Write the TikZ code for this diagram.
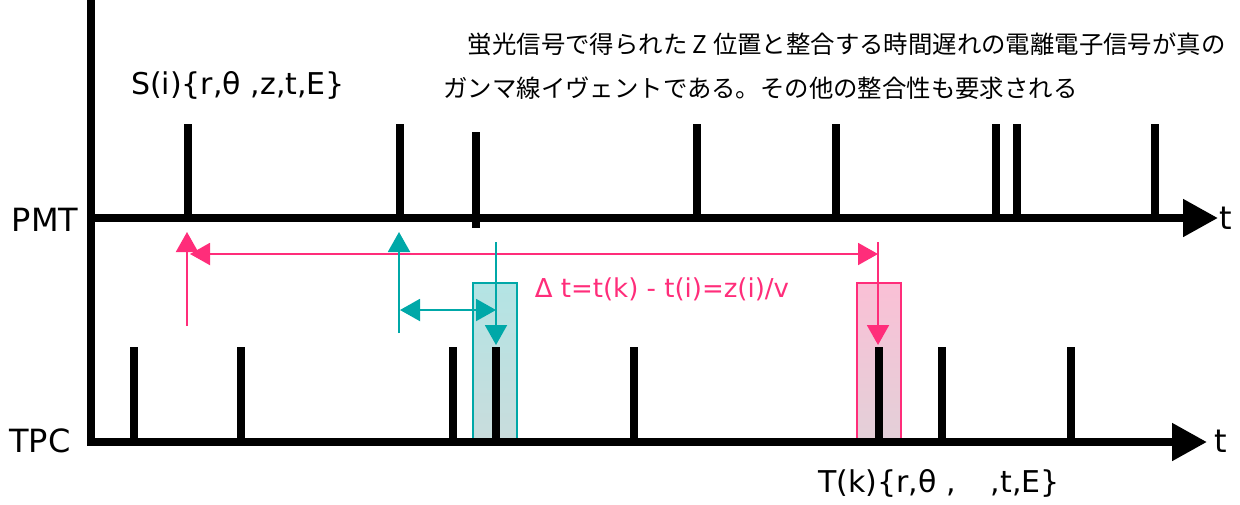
\documentclass[tikz,border=0pt]{standalone}
\usepackage{fontspec}
\setmainfont{DejaVu Sans}
\newfontfamily\jpfont{Noto Sans CJK JP}
\usetikzlibrary{arrows.meta}
\definecolor{pinkc}{HTML}{FF2D7A}
\definecolor{tealc}{HTML}{00A8A8}
\definecolor{tealtop}{HTML}{B3E4E4}
\definecolor{tealbot}{HTML}{C9DCDC}
\definecolor{pinktop}{HTML}{FAC0D6}
\definecolor{pinkbot}{HTML}{E3D0D8}
\begin{document}
\begin{tikzpicture}[x=0.5pt,y=-0.5pt,
  axisline/.style={line width=4pt,-{Triangle[length=17.5pt,width=18pt]}},
  spike/.style={line width=4pt},
  pinkarrow/.style={pinkc,line width=1pt,-{Triangle[length=10pt,width=11pt]}},
  tealarrow/.style={tealc,line width=1pt,-{Triangle[length=10pt,width=11pt]}},
  axlabel/.style={font=\fontsize{16}{19}\selectfont,inner sep=0pt},
  sig/.style={font=\fontsize{15}{18}\selectfont,inner sep=0pt},
  dsig/.style={font=\fontsize{13}{16}\selectfont,inner sep=0pt},
  jp/.style={font=\jpfont\fontsize{12.2}{15}\selectfont,inner sep=0pt,anchor=west}
]
\useasboundingbox (0,0) rectangle (1240,504);

% highlight boxes
\draw[tealc,line width=1pt,top color=tealtop,bottom color=tealbot] (473,283) rectangle (517,442);
\draw[pinkc,line width=1pt,top color=pinktop,bottom color=pinkbot] (857,283) rectangle (901,442);

% axes
\coordinate (vtop) at (91,0);
\coordinate (vbot) at (91,446);
\draw[line width=4pt] (vtop) -- (vbot);
\coordinate (pmt0) at (87,218);
\coordinate (pmt1) at (1218,218);
\coordinate (tpc0) at (87,442);
\coordinate (tpc1) at (1207,442);
\draw[axisline] (pmt0) -- (pmt1);
\draw[axisline] (tpc0) -- (tpc1);

% PMT spikes
\foreach \x in {188,400,697,836,996,1017,1155}
  \draw[spike] (\x,124) -- (\x,218);
\draw[spike] (476,132) -- (476,228);

% TPC spikes
\foreach \x in {134,241,453,496,634,879,942,1071}
  \draw[spike] (\x,347) -- (\x,442);

% labels
\node[axlabel] (pmtlab) at (45,220) {PMT};
\node[axlabel] (tpclab) at (40,441) {TPC};
\node[axlabel,anchor=west] (t1) at (1219,218) {t};
\node[axlabel,anchor=west] (t2) at (1214,441) {t};
\node[sig] (slab) at (238,85) {S(i)\{r,θ ,z,t,E\}};
\node[sig] (tlab) at (939,483) {T(k)\{r,θ ,\hphantom{z}\ \ ,t,E\}};
\node[dsig,text=pinkc] (dlab) at (662,289) {Δ t=t(k) - t(i)=z(i)/v};

\node[jp] (jp1) at (443,44) {　蛍光信号で得られた Z 位置と整合する時間遅れの電離電子信号が真の};
\node[jp] (jp2) at (443,88) {ガンマ線イヴェントである。その他の整合性も要求される};

% pink arrows
\coordinate (pa0) at (187,326);
\coordinate (pa1) at (187,232);
\draw[pinkarrow] (pa0) -- (pa1);
\coordinate (ph0) at (190,254);
\coordinate (ph1) at (878,254);
\draw[pinkc,line width=1pt,{Triangle[length=10pt,width=11pt]}-{Triangle[length=10pt,width=11pt]}] (ph0) -- (ph1);
\coordinate (pd0) at (878,242);
\coordinate (pd1) at (878,345);
\draw[pinkarrow] (pd0) -- (pd1);

% teal arrows
\coordinate (ta0) at (399,333);
\coordinate (ta1) at (399,232);
\draw[tealarrow] (ta0) -- (ta1);
\coordinate (th0) at (400,310);
\coordinate (th1) at (496,310);
\draw[tealc,line width=1pt,{Triangle[length=10pt,width=11pt]}-{Triangle[length=10pt,width=11pt]}] (th0) -- (th1);
\coordinate (td0) at (496,242);
\coordinate (td1) at (496,345);
\draw[tealarrow] (td0) -- (td1);
\end{tikzpicture}
\end{document}
